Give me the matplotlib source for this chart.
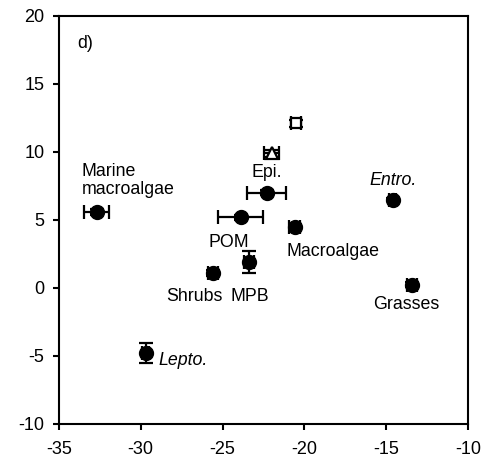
import matplotlib
matplotlib.use("Agg")
import matplotlib.pyplot as plt

plt.rcParams['font.family'] = ['Liberation Sans', 'DejaVu Sans']
plt.rcParams['axes.unicode_minus'] = False

# Filled sources: name, d13C, d15N, errors
names = ["Marine macroalgae", "POM", "Epi.", "Macroalgae", "MPB", "Shrubs",
         "Lepto.", "Entro.", "Grasses"]
d13c = [-32.7, -23.9, -22.3, -20.6, -23.4, -25.6, -29.7, -14.6, -13.4]
d15n = [5.6, 5.2, 7.0, 4.5, 1.9, 1.1, -4.8, 6.5, 0.25]
xerr = [0.75, 1.4, 1.2, 0.35, 0.3, 0.3, 0.2, 0.2, 0.3]
yerr = [0.2, 0.2, 0.2, 0.2, 0.8, 0.2, 0.75, 0.1, 0.2]

# Consumers: open triangle and open square
tri_x, tri_y, tri_xerr, tri_yerr = -22.0, 9.9, 0.45, 0.25
sq_x, sq_y, sq_xerr, sq_yerr = -20.5, 12.1, 0.3, 0.25

x_ticks = [-35, -30, -25, -20, -15, -10]
y_ticks = [-10, -5, 0, 5, 10, 15, 20]

fig = plt.figure(figsize=(4.91, 4.69), dpi=100)
ax = fig.add_axes([0.120, 0.096, 0.833, 0.870])

ekw = dict(ecolor='black', elinewidth=1.6, capsize=5, capthick=1.6, zorder=3)
ax.errorbar(d13c, d15n, xerr=xerr, yerr=yerr, fmt='o', color='black',
            markersize=10, **ekw)
ax.errorbar([tri_x], [tri_y], xerr=[tri_xerr], yerr=[tri_yerr], fmt='^',
            mfc='white', mec='black', mew=1.6, markersize=8, **ekw)
ax.errorbar([sq_x], [sq_y], xerr=[sq_xerr], yerr=[sq_yerr], fmt='s',
            mfc='white', mec='black', mew=1.6, markersize=7.5, **ekw)

fs = 12.8
ax.text(-33.6, 6.6, "Marine\nmacroalgae", fontsize=fs, ha='left', va='bottom',
        linespacing=1.1)
ax.text(-22.3, 7.9, "Epi.", fontsize=fs, ha='center', va='bottom')
ax.text(-24.6, 4.0, "POM", fontsize=fs, ha='center', va='top')
ax.text(-21.1, 3.3, "Macroalgae", fontsize=fs, ha='left', va='top')
ax.text(-25.0, 0.0, "Shrubs", fontsize=fs, ha='right', va='top')
ax.text(-23.35, 0.0, "MPB", fontsize=fs, ha='center', va='top')
ax.text(-28.9, -5.3, "Lepto.", fontsize=fs, ha='left', va='center',
        style='italic')
ax.text(-14.6, 7.3, "Entro.", fontsize=fs, ha='center', va='bottom',
        style='italic')
ax.text(-13.75, -0.6, "Grasses", fontsize=fs, ha='center', va='top')
ax.text(-33.9, 18.0, "d)", fontsize=fs, ha='left', va='center')

ax.set_xlim(-35, -10)
ax.set_ylim(-10, 20)
ax.set_xticks(x_ticks)
ax.set_yticks(y_ticks)
ax.tick_params(direction='out', length=4.5, width=1.5, labelsize=13)
ax.tick_params(axis='x', pad=8)
ax.tick_params(axis='y', pad=6)
for s in ax.spines.values():
    s.set_linewidth(1.5)

fig.savefig("out.png", dpi=100)
